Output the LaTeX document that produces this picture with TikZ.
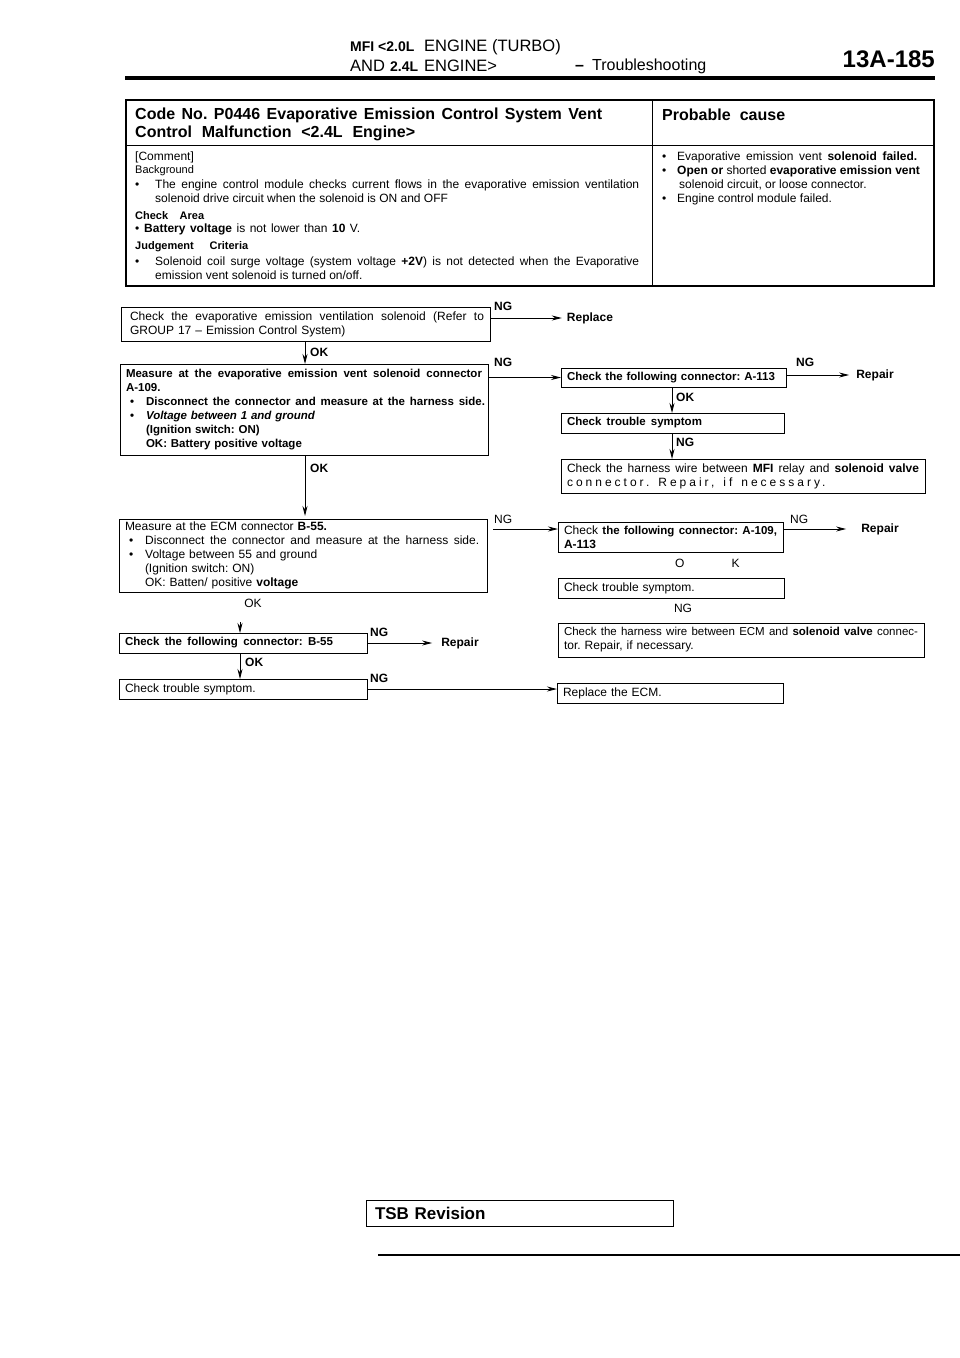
\documentclass[tikz,border=0pt]{standalone}
\usepackage{fontspec}
\setmainfont{Liberation Sans}
\usetikzlibrary{arrows.meta}
\frenchspacing

\newcommand{\fitline}[2]{\makebox[#1pt][s]{\spaceskip=0pt\xspaceskip=0pt #2}}
\newcommand{\itm}[1]{\hspace*{#1pt}\textbullet\hspace{12pt}}

\tikzset{
  flowbox/.style={draw, line width=1pt, anchor=north west, align=left, outer sep=0pt,
    inner xsep=6pt, inner ysep=1pt, font=\fontsize{12}{14}\selectfont},
  tagtext/.style={inner sep=0pt, font=\fontsize{12}{14}\selectfont},
  tagbold/.style={inner sep=1pt, font=\bfseries\fontsize{12}{14}\selectfont},
  celltext/.style={anchor=west, align=left, inner sep=0pt, font=\fontsize{12}{14}\selectfont},
  flow/.style={-{Stealth[length=10pt,width=5pt]}, line width=0.9pt}
}

\begin{document}
\begin{tikzpicture}[x=1pt,y=-1pt]

\useasboundingbox (0,0) rectangle (960,1358);

    % page head
    \node[anchor=west, inner sep=0pt, font=\fontsize{16.5}{18}\selectfont] (headone) at (350,47) {\makebox[74pt][l]{\bfseries\fontsize{14}{18}\selectfont MFI <2.0L}ENGINE (TURBO)};
    \node[anchor=west, inner sep=0pt, font=\fontsize{16.5}{18}\selectfont] (headtwo) at (350,66) {\makebox[40pt][l]{AND}\makebox[34pt][l]{\bfseries\fontsize{14}{18}\selectfont 2.4L}ENGINE>};
    \node[anchor=west, inner sep=0pt, font=\fontsize{16}{18}\selectfont] (headsec) at (575,66) {\makebox[17pt][l]{\textbf{--}}Troubleshooting};
    \node[anchor=east, inner sep=0pt, font=\bfseries\fontsize{24}{26}\selectfont] (pageno) at (935,59) {13A-185};
    \draw[line width=4pt] (125,78) -- (935,78);

    % code table
    \draw[line width=1.5pt] (126,100) rectangle (934,286);
    \draw[line width=1pt] (126,145) -- (934,145);
    \draw[line width=1pt] (652,100) -- (652,286);

    \begin{scope}[font=\fontsize{16}{18}\selectfont]
     \node[anchor=west, inner sep=0pt] (codeone) at (135,115) {\fitline{467}{\textbf{Code No. P0446 Evaporative Emission Control System Vent}}};
     \node[anchor=west, inner sep=0pt] (codetwo) at (135,133) {\fitline{280}{\textbf{Control Malfunction <2.4L Engine>}}};
     \node[anchor=west, inner sep=0pt] (causehead) at (662,115) {\fitline{123}{\textbf{Probable cause}}};
    \end{scope}

    \node[celltext] (comment) at (135,157) {[Comment]};
    \node[celltext, font=\fontsize{11}{14}\selectfont] (background) at (135,171) {Background};
    \node[celltext] (backitem) at (135,191.5) {\makebox[20pt][l]{\textbullet}\fitline{484}{The engine control module checks current flows in the evaporative emission ventilation}\\\hspace*{20pt}solenoid drive circuit when the solenoid is ON and OFF};
    \node[celltext, font=\bfseries\fontsize{11}{14}\selectfont] (checkarea) at (135,216) {\fitline{69}{Check Area}};
    \node[celltext] (checkitem) at (135,229) {\makebox[9pt][l]{\textbullet}\fitline{216}{\textbf{Battery voltage} is not lower than \textbf{10} V.}};
    \node[celltext, font=\bfseries\fontsize{11}{14}\selectfont] (judge) at (135,247) {\fitline{113}{Judgement Criteria}};
    \node[celltext] (judgeitem) at (135,268) {\makebox[20pt][l]{\textbullet}\fitline{484}{Solenoid coil surge voltage (system voltage \textbf{+2V}) is not detected when the Evaporative}\\\hspace*{20pt}emission vent solenoid is turned on/off.};

    \node[celltext] (causelist) at (662,178) {\makebox[15pt][l]{\textbullet}\fitline{240}{Evaporative emission vent \textbf{solenoid failed.}}\\\makebox[15pt][l]{\textbullet}\textbf{Open or} shorted \textbf{evaporative emission vent}\\\hspace*{17pt}solenoid circuit, or loose connector.\\\makebox[15pt][l]{\textbullet}Engine control module failed.};

    % left column
    \node[flowbox, text width=357pt, minimum height=34pt] (ventcheck) at (121,307) {\hspace*{3pt}\fitline{354}{Check the evaporative emission ventilation solenoid (Refer to}\\\hspace*{3pt}GROUP 17 -- Emission Control System)};
    \node[flowbox, text width=356pt, minimum height=91pt, font=\bfseries\fontsize{11.5}{14}\selectfont] (ventmeasure) at (120,364) {\fitline{356}{Measure at the evaporative emission vent solenoid connector}\\A-109.\\\itm{4}\fitline{339}{Disconnect the connector and measure at the harness side.}\\\itm{4}\textit{Voltage between 1 and ground}\\\hspace*{20pt}(Ignition switch: ON)\\\hspace*{20pt}OK: Battery positive voltage};
    \node[flowbox, text width=356pt, minimum height=73pt] (ecmmeasure) at (119,519) {Measure at the ECM connector \textbf{B-55.}\\\itm{4}\fitline{334}{Disconnect the connector and measure at the harness side.}\\\itm{4}Voltage between 55 and ground\\\hspace*{20pt}(Ignition switch: ON)\\\hspace*{20pt}OK: Batten/ positive \textbf{voltage}};
    \node[flowbox, text width=236pt, minimum height=20pt, font=\bfseries\fontsize{11.5}{14}\selectfont] (ecmconn) at (119,633) {\fitline{208}{Check the following connector: B-55}};
    \node[flowbox, text width=236pt, minimum height=20pt] (ecmsymptom) at (119,679) {Check trouble symptom.};

    % right column
    \node[flowbox, text width=213pt, minimum height=19pt, font=\bfseries\fontsize{11.5}{14}\selectfont] (ventconn) at (561,368) {\fitline{208}{Check the following connector: A-113}};
    \node[flowbox, text width=211pt, minimum height=20pt, font=\bfseries\fontsize{11.5}{14}\selectfont] (ventsymptom) at (561,413) {\fitline{135}{Check trouble symptom}};
    \node[flowbox, text width=352pt, minimum height=34pt] (harnessrelay) at (561,459) {\fitline{352}{Check the harness wire between \textbf{MFI} relay and \textbf{solenoid valve}}\\\addfontfeature{LetterSpace=25}\spaceskip=9pt\relax connector. Repair, if necessary.};
    \node[flowbox, text width=213pt, minimum height=30pt] (ecmfollow) at (558,522) {\fitline{213}{Check {\bfseries\fontsize{11.5}{14}\selectfont the following connector: A-109,}}\\\textbf{A-113}};
    \node[flowbox, text width=214pt, minimum height=20pt] (ecmtrouble) at (558,578) {Check trouble symptom.};
    \node[flowbox, text width=354pt, minimum height=34pt] (harnessecm) at (558,623) {{\fontsize{11.5}{14}\selectfont\fitline{354}{Check the harness wire between ECM and \textbf{solenoid valve} connec-}}\\tor. Repair, if necessary.};
    \node[flowbox, text width=214pt, minimum height=20pt] (replaceecm) at (557,683) {Replace the ECM.};

    % end points
    \node[tagbold] (replace) at (590,318) {Replace};
    \node[tagbold] (repairone) at (875,375) {Repair};
    \node[tagbold] (repairtwo) at (880,529) {Repair};
    \node[tagbold] (repairthree) at (460,643) {Repair};
    \coordinate (okstub) at (240,622);

    % connectors
    \draw[flow, shorten >=4pt] (ventcheck.east |- replace) -- (replace);
    \draw[flow] (ventmeasure.east |- ventconn) -- (ventconn);
    \draw[flow, shorten >=6pt] (ventconn.east |- repairone) -- (repairone);
    \draw[flow] (ventcheck.south -| 305,0) -- (ventmeasure.north -| 305,0);
    \draw[flow] (ventconn.south -| 672,0) -- (ventsymptom.north -| 672,0);
    \draw[flow] (ventsymptom.south -| 672,0) -- (harnessrelay.north -| 672,0);
    \draw[flow, shorten >=3pt] (ventmeasure.south -| 305,0) -- (ecmmeasure.north -| 305,0);
    \draw[flow, shorten <=6pt] (ecmmeasure.east |- ecmfollow.north) ++(0,7) -- (ecmfollow.west |- 0,529);
    \draw[flow, shorten >=14pt] (ecmfollow.east |- repairtwo) -- (repairtwo);
    \draw[flow] (okstub) -- (ecmconn.north -| okstub);
    \draw[flow, shorten >=8pt] (ecmconn.east |- repairthree) -- (repairthree);
    \draw[flow] (ecmconn.south -| okstub) -- (ecmsymptom.north -| okstub);
    \draw[flow] (ecmsymptom.east) -- (replaceecm.west |- ecmsymptom);

    % connector labels
    \begin{scope}[tagbold]
     \node[anchor=west] (ngone) at (493,306) {NG};
     \node[anchor=west] (oktwo) at (309,352) {OK};
     \node[anchor=west] (ngtwo) at (493,362) {NG};
     \node[anchor=west] (ngthree) at (795,362) {NG};
     \node[anchor=west] (okthree) at (675,397) {OK};
     \node[anchor=west] (ngfour) at (675,442) {NG};
     \node[anchor=west] (okfour) at (309,468) {OK};
     \node[anchor=west] (ngfive) at (369,632) {NG};
     \node[anchor=west] (okfive) at (244,662) {OK};
     \node[anchor=west] (ngsix) at (369,678) {NG};
    \end{scope}
    \begin{scope}[tagtext]
     \node[anchor=west] (ngseven) at (494,519) {NG};
     \node[anchor=west] (ngeight) at (790,519) {NG};
     \node[anchor=west] (oksix) at (675,563) {O\hspace{47pt}K};
     \node (oksev) at (253,603) {OK};
     \node (ngnine) at (683,608) {NG};
    \end{scope}

    % page foot
    \node[draw, line width=1pt, anchor=north west, minimum height=26pt, text width=289pt, inner xsep=9pt, outer sep=0pt, inner ysep=0pt, font=\bfseries\fontsize{17}{19}\selectfont] (revision) at (366,1200) {TSB Revision};
    \draw[line width=1.3pt] (378,1255) -- (960,1255);

  \end{tikzpicture}
\end{document}
